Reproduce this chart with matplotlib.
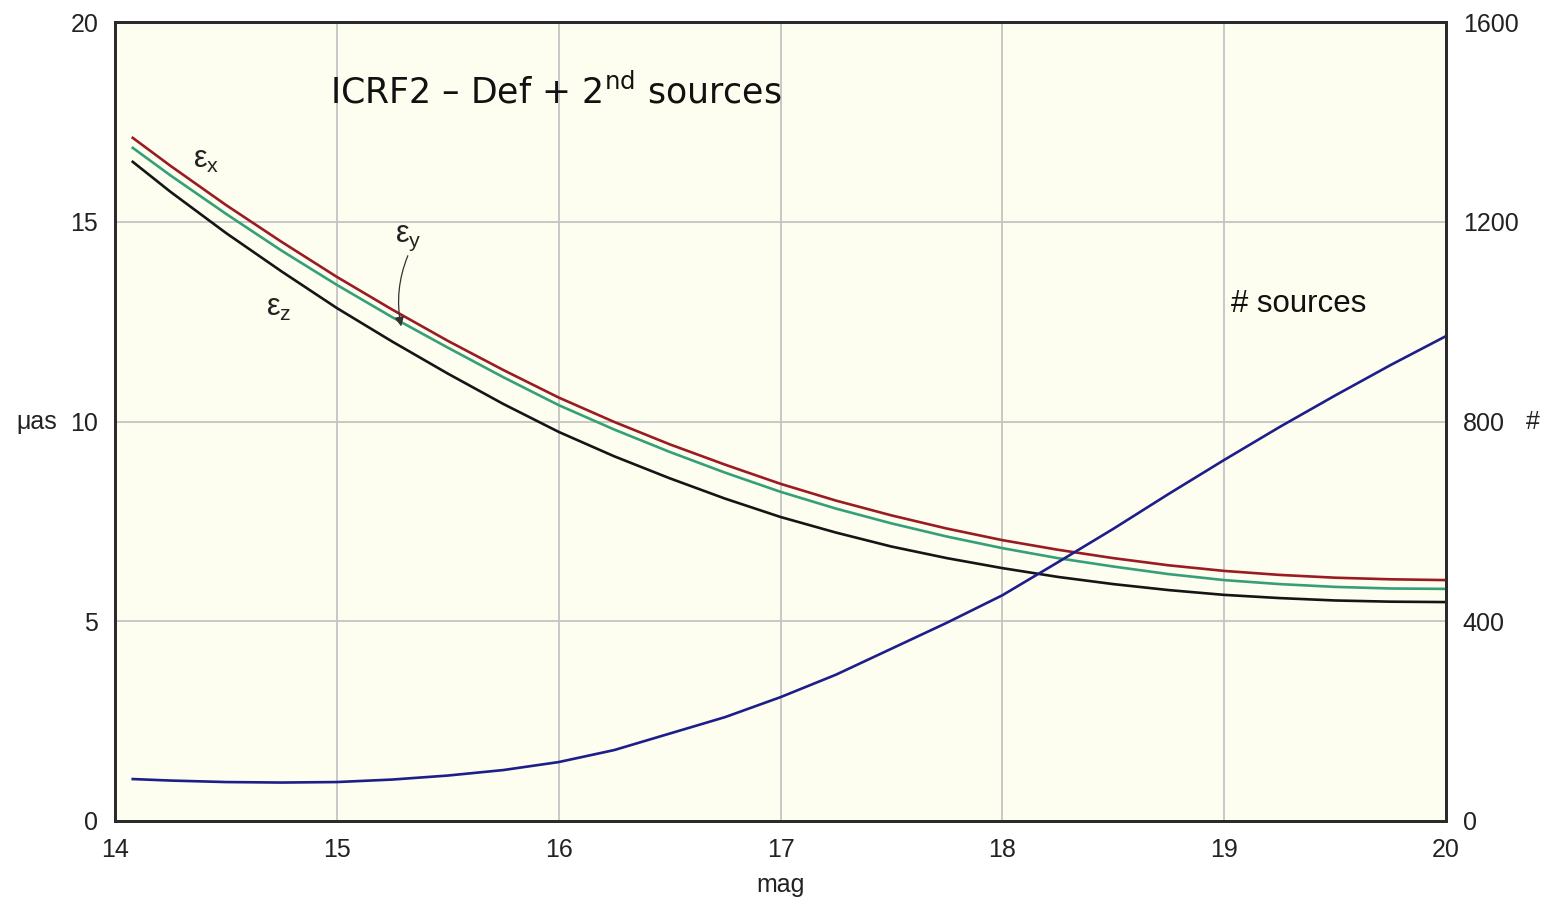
import matplotlib
matplotlib.use("Agg")
import matplotlib.pyplot as plt

# Magnitude grid (x axis)
mag = [14.08, 14.25, 14.5, 14.75, 15.0, 15.25, 15.5, 15.75, 16.0, 16.25, 16.5, 16.75,
       17.0, 17.25, 17.5, 17.75, 18.0, 18.25, 18.5, 18.75, 19.0, 19.25, 19.5, 19.75, 20.0]

# Orientation errors in microarcseconds (left axis)
eps_x = [17.10, 16.40, 15.42, 14.50, 13.62, 12.80, 12.02, 11.29, 10.60, 9.99, 9.43, 8.92,
         8.44, 8.02, 7.65, 7.32, 7.03, 6.79, 6.58, 6.40, 6.26, 6.16, 6.09, 6.05, 6.03]
eps_y = [16.85, 16.16, 15.20, 14.28, 13.42, 12.61, 11.85, 11.11, 10.41, 9.80, 9.24, 8.72,
         8.24, 7.82, 7.45, 7.12, 6.83, 6.58, 6.37, 6.18, 6.03, 5.93, 5.86, 5.82, 5.81]
eps_z = [16.50, 15.75, 14.72, 13.76, 12.84, 12.00, 11.20, 10.44, 9.74, 9.13, 8.58, 8.07,
         7.61, 7.22, 6.87, 6.58, 6.33, 6.11, 5.93, 5.78, 5.66, 5.58, 5.52, 5.49, 5.48]

# Number of sources (right axis)
n_sources = [84, 81, 78, 77, 78, 83, 91, 102, 118, 142, 175, 208,
             248, 293, 345, 397, 452, 518, 585, 655, 723, 789, 852, 913, 971]

x_ticks = [14, 15, 16, 17, 18, 19, 20]
left_ticks = [0, 5, 10, 15, 20]
right_ticks = [0, 400, 800, 1200, 1600]

plt.rcParams['font.family'] = ['Liberation Sans', 'DejaVu Sans']
plt.rcParams['mathtext.fontset'] = 'custom'
plt.rcParams['mathtext.rm'] = 'Liberation Sans'

W, H = 1548, 898
fig = plt.figure(figsize=(W / 100, H / 100), dpi=100)
ax = fig.add_axes([115 / W, 1 - 821 / H, (1446 - 115) / W, (821 - 22) / H])
ax.set_facecolor('#fdfdf0')

ax.set_xlim(14, 20)
ax.set_ylim(0, 20)
ax.set_xticks(x_ticks)
ax.set_yticks(left_ticks)
ax.grid(True, color='#c4c4c4', linewidth=1.3)
ax.set_axisbelow(True)
ax.tick_params(length=0, labelsize=18, pad=12, colors='#222222')
for sp in ax.spines.values():
    sp.set_color('#2a2a2a')
    sp.set_linewidth(2.0)

ax.plot(mag, eps_x, color='#9a1b22', lw=1.9, zorder=3)
ax.plot(mag, eps_y, color='#35a078', lw=1.9, zorder=3)
ax.plot(mag, eps_z, color='#151515', lw=1.9, zorder=3)

ax2 = ax.twinx()
ax2.set_ylim(0, 1600)
ax2.set_yticks(right_ticks)
ax2.tick_params(length=0, labelsize=18, pad=12, colors='#222222')
for sp in ax2.spines.values():
    sp.set_color('#2a2a2a')
    sp.set_linewidth(2.0)
ax2.plot(mag, n_sources, color='#1e1e8a', lw=1.9, zorder=3)

ax.set_xlabel('mag', fontsize=18, color='#222222', labelpad=8)
fig.text(37 / W, 1 - 422 / H, 'μas', fontsize=18, color='#222222', ha='center', va='center')
fig.text(1533 / W, 1 - 422 / H, '#', fontsize=18, color='#222222', ha='center', va='center')

# Curve labels
ax.text(14.35, 16.55, r'$\mathregular{ε_x}$', fontsize=22, color='#222222', va='center')
ax.text(15.26, 14.6, r'$\mathregular{ε_y}$', fontsize=22, color='#222222', va='center')
ax.text(14.68, 12.85, r'$\mathregular{ε_z}$', fontsize=22, color='#222222', va='center')
ax.annotate('', xy=(15.29, 12.38), xytext=(15.32, 14.15),
            arrowprops=dict(arrowstyle='-|>', color='#333333', lw=0.9,
                            mutation_scale=14, shrinkA=0, shrinkB=0,
                            connectionstyle='arc3,rad=0.15'))
ax2.text(19.03, 1035, '# sources', fontsize=22.5, color='#111111', va='center')

ax.text(14.97, 18.25, 'ICRF2 – Def + 2$^{\\mathregular{nd}}$ sources', fontsize=25,
        color='#111111', va='center', family=['DejaVu Sans'])

fig.savefig('out.png', dpi=100)
